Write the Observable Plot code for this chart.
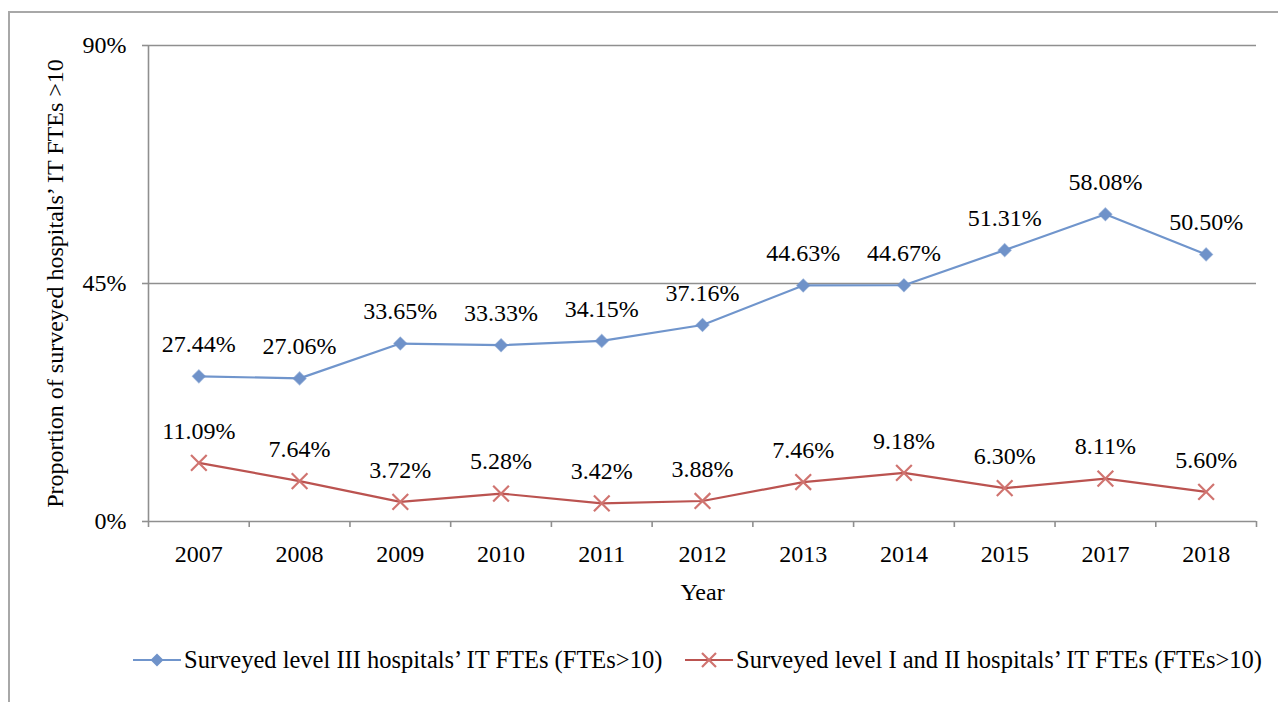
<!DOCTYPE html>
<html><head><meta charset="utf-8">
<script src="https://cdn.jsdelivr.net/npm/d3@7"></script>
<script src="https://cdn.jsdelivr.net/npm/@observablehq/plot@0.6"></script>
<style>
html,body{margin:0;padding:0;background:#fff;}
body{width:1278px;height:702px;overflow:hidden;position:relative;font-family:"Liberation Serif","Times New Roman",serif;}
#frame{position:absolute;left:8px;top:11px;width:1300px;height:720px;border-top:2px solid #a8a8a8;border-left:2px solid #a8a8a8;}
#chart{position:absolute;left:0;top:0;}
#legend{position:absolute;top:645px;left:0;width:1278px;height:30px;font-size:24.5px;color:#000;}
.item{position:absolute;top:0;height:30px;display:flex;align-items:center;white-space:nowrap;}
.item svg{display:block;margin-right:3px;}
</style></head><body>
<div id="frame"></div>
<div id="chart"></div>
<div id="legend"></div>
<script>
const years = ["2007","2008","2009","2010","2011","2012","2013","2014","2015","2017","2018"];
const level3 = [27.44, 27.06, 33.65, 33.33, 34.15, 37.16, 44.63, 44.67, 51.31, 58.08, 50.50];
const level12 = [11.09, 7.64, 3.72, 5.28, 3.42, 3.88, 7.46, 9.18, 6.30, 8.11, 5.60];
const yTicks = [0, 45, 90];
const seriesNames = ["Surveyed level III hospitals’ IT FTEs (FTEs>10)", "Surveyed level I and II hospitals’ IT FTEs (FTEs>10)"];
const yTitle = "Proportion of surveyed hospitals’ IT FTEs >10";
const xTitle = "Year";

const blue = "#7095cc", blueMark = "#6f92c9";
const red = "#bb5350", redMark = "#d07470";

const idx = years.map((_, i) => i);
const rows3 = idx.map(i => ({i, year: years[i], v: level3[i]}));
const rows12 = idx.map(i => ({i, year: years[i], v: level12[i]}));
const bounds = d3.range(years.length + 1).map(i => i - 0.5);
const fmt = v => v.toFixed(2) + "%";
const grid = "#8f8f8f";

const chart = Plot.plot({
  width: 1278,
  height: 620,
  marginLeft: 148,
  marginRight: 22,
  marginTop: 45,
  marginBottom: 99,
  style: {fontFamily: '"Liberation Serif","Times New Roman",serif', fontSize: "24px", color: "#000", background: "transparent"},
  x: {type: "linear", domain: [-0.5, years.length - 0.5]},
  y: {domain: [0, 90]},
  marks: [
    Plot.ruleY(yTicks, {y: d => d, x1: -0.5, x2: years.length - 0.5, stroke: grid, strokeWidth: 1.6}),
    Plot.ruleX([-0.5], {x: d => d, y1: 0, y2: 90, stroke: grid, strokeWidth: 1.6}),
    Plot.axisY({ticks: yTicks, tickSize: 6, tickPadding: 16, tickFormat: d => d + "%", stroke: grid, strokeWidth: 1.6, fill: "#000", fontSize: 24, label: null}),
    Plot.axisX({ticks: bounds, tickSize: 6, tickFormat: () => "", stroke: grid, strokeWidth: 1.6, label: null}),
    Plot.axisX({ticks: idx, tickSize: 0, tickPadding: 23, tickFormat: i => years[i], fill: "#000", fontSize: 24, label: null}),
    Plot.text([yTitle], {frameAnchor: "left", dx: -93, rotate: -90, textAnchor: "middle", lineAnchor: "middle", text: d => d, fontSize: 24, fill: "#000"}),
    Plot.text([xTitle], {frameAnchor: "bottom", dy: 71, lineAnchor: "middle", text: d => d, fontSize: 24, fill: "#000"}),
    Plot.line(rows3, {x: "i", y: "v", stroke: blue, strokeWidth: 2.2}),
    Plot.line(rows12, {x: "i", y: "v", stroke: red, strokeWidth: 2.2}),
    Plot.dot(rows3, {x: "i", y: "v", symbol: "diamond2", r: 5.8, fill: blueMark, stroke: blueMark, strokeWidth: 1.2, strokeOpacity: 0.6}),
    Plot.dot(rows12, {x: "i", y: "v", symbol: "times", r: 7.2, stroke: redMark, strokeWidth: 2.2}),
    Plot.text(rows3, {x: "i", y: "v", text: d => fmt(d.v), dy: -32, fontSize: 24, fill: "#000"}),
    Plot.text(rows12, {x: "i", y: "v", text: d => fmt(d.v), dy: -32, fontSize: 24, fill: "#000"})
  ]
});
document.getElementById("chart").appendChild(chart);

// legend
const legend = document.getElementById("legend");
const sym = [
  `<svg width="48" height="20"><line x1="0" y1="10" x2="48" y2="10" stroke="${blue}" stroke-width="2.2"/><path d="M24,3.5L30.5,10L24,16.5L17.5,10Z" fill="${blueMark}"/></svg>`,
  `<svg width="48" height="20"><line x1="0" y1="10" x2="48" y2="10" stroke="${red}" stroke-width="2.2"/><path d="M17,3L31,17M31,3L17,17" stroke="${redMark}" stroke-width="2.2"/></svg>`
];
const lefts = [133, 685];
seriesNames.forEach((name, k) => {
  const d = document.createElement("div");
  d.className = "item";
  d.style.left = lefts[k] + "px";
  d.innerHTML = sym[k] + "<span></span>";
  d.querySelector("span").textContent = name;
  legend.appendChild(d);
});
</script>
</body></html>
